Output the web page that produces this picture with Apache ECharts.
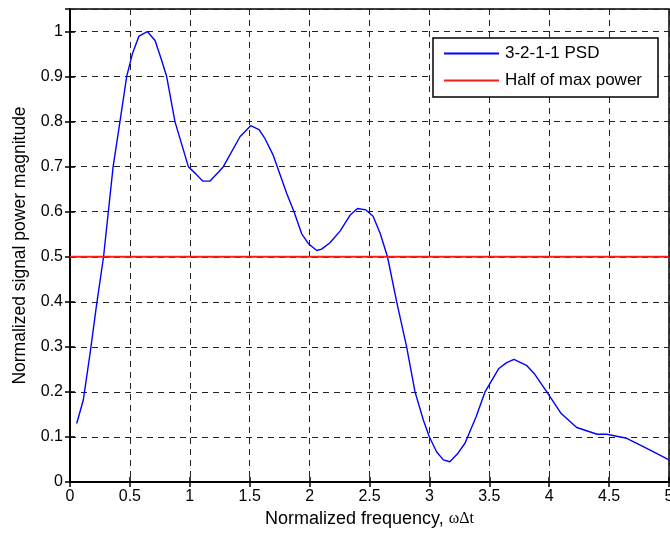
<!DOCTYPE html>
<html>
<head>
<meta charset="utf-8">
<script src="https://cdn.jsdelivr.net/npm/echarts@6/dist/echarts.min.js"></script>
<style>html,body{margin:0;padding:0;background:#fff;}#c{width:670px;height:534px;}</style>
</head>
<body>
<div id="c"></div>
<script>
const freq = [0.056,0.111,0.17,0.22,0.28,0.32,0.36,0.417,0.473,0.52,0.576,0.645,0.71,0.76,0.807,0.876,0.988,1.05,1.107,1.169,1.24,1.28,1.42,1.508,1.578,1.628,1.697,1.73,1.81,1.87,1.934,1.99,2.06,2.10,2.17,2.254,2.337,2.40,2.47,2.53,2.59,2.65,2.727,2.81,2.88,2.95,3.0,3.06,3.116,3.17,3.233,3.297,3.39,3.464,3.506,3.58,3.645,3.706,3.81,3.88,3.98,4.10,4.23,4.40,4.48,4.647,4.76,4.88,5.0];
const psd = [0.13,0.182,0.29,0.39,0.5,0.6,0.7,0.8,0.9,0.95,0.99,1.0,0.98,0.94,0.9,0.8,0.70,0.684,0.668,0.668,0.688,0.70,0.767,0.791,0.782,0.762,0.725,0.70,0.64,0.60,0.551,0.529,0.514,0.517,0.531,0.557,0.592,0.607,0.604,0.59,0.551,0.50,0.40,0.30,0.20,0.137,0.10,0.067,0.049,0.045,0.062,0.086,0.145,0.2,0.219,0.252,0.265,0.272,0.259,0.239,0.2,0.152,0.121,0.106,0.106,0.097,0.082,0.066,0.049];
const halfFreq = [0, 5];
const halfPower = [0.5, 0.5];
const xTicks = [0,0.5,1,1.5,2,2.5,3,3.5,4,4.5,5];
const yTicks = [0,0.1,0.2,0.3,0.4,0.5,0.6,0.7,0.8,0.9,1];

const font = 'Liberation Sans, Arial, sans-serif';
const chart = echarts.init(document.getElementById('c'));
const gridDash = {color:'#222', width:1, type:[6,5]};
const baseX = {
  type:'value', min:0, max:5, interval:0.5,
  axisLine:{show:true, lineStyle:{color:'#000', width:1.5}},
  axisTick:{show:true, inside:true, length:5, lineStyle:{color:'#000', width:1.5}},
  splitLine:{show:false}
};
const baseY = {
  type:'value', min:0, max:1.05, interval:0.1,
  axisLine:{show:true, lineStyle:{color:'#000', width:1.5}},
  axisTick:{show:true, inside:true, length:5, lineStyle:{color:'#000', width:1.5}},
  splitLine:{show:false}
};
chart.setOption({
  animation:false,
  backgroundColor:'#fff',
  grid:{left:70, right:1, top:9, bottom:52, containLabel:false, outerBoundsMode:'none',
        show:true, borderColor:'#000', borderWidth:1.5},
  xAxis:[
    Object.assign({}, baseX, {
      position:'bottom',
      splitLine:{show:true, lineStyle:gridDash},
      axisLabel:{color:'#000', fontFamily:font, fontSize:16, margin:7,
        formatter:v => xTicks.includes(+v.toFixed(2)) ? String(+v.toFixed(2)) : ''},
      name:'{a|Normalized frequency, }{b|ωΔt}', nameLocation:'middle', nameGap:28,
      nameTextStyle:{rich:{a:{fontFamily:font, fontSize:18, color:'#000'}, b:{fontFamily:'Liberation Serif, serif', fontSize:16, color:'#000'}}}
    }),
    Object.assign({}, baseX, {position:'top', axisLabel:{show:false}})
  ],
  yAxis:[
    Object.assign({}, baseY, {
      position:'left',
      splitLine:{show:true, lineStyle:gridDash},
      axisLabel:{color:'#000', fontFamily:font, fontSize:16, margin:7, showMaxLabel:false,
        formatter:v => yTicks.includes(+v.toFixed(2)) ? String(+v.toFixed(2)) : ''},
      name:'Normalized signal power magnitude', nameLocation:'middle', nameGap:41,
      nameTextStyle:{fontFamily:font, fontSize:17.5, color:'#000'}
    }),
    Object.assign({}, baseY, {position:'right', axisLabel:{show:false}})
  ],
  legend:{
    left:433, top:38, orient:'vertical', backgroundColor:'#fff',
    borderColor:'#000', borderWidth:1.5, borderRadius:0, padding:[7,16,8,11],
    itemWidth:55, itemHeight:2, itemGap:10, icon:'rect',
    textStyle:{fontFamily:font, fontSize:17, color:'#000', padding:[0,0,0,1], lineHeight:17},
    data:['3-2-1-1 PSD','Half of max power']
  },
  series:[
    {name:'3-2-1-1 PSD', type:'line', showSymbol:false, symbol:'none',
     lineStyle:{color:'#0000ff', width:1.4}, itemStyle:{color:'#0000ff'},
     data:freq.map((f,i)=>[f, psd[i]])},
    {name:'Half of max power', type:'line', showSymbol:false, symbol:'none',
     lineStyle:{color:'#ff1a1a', width:1.8}, itemStyle:{color:'#ff1a1a'},
     data:halfFreq.map((f,i)=>[f, halfPower[i]])}
  ]
});
</script>
</body>
</html>
